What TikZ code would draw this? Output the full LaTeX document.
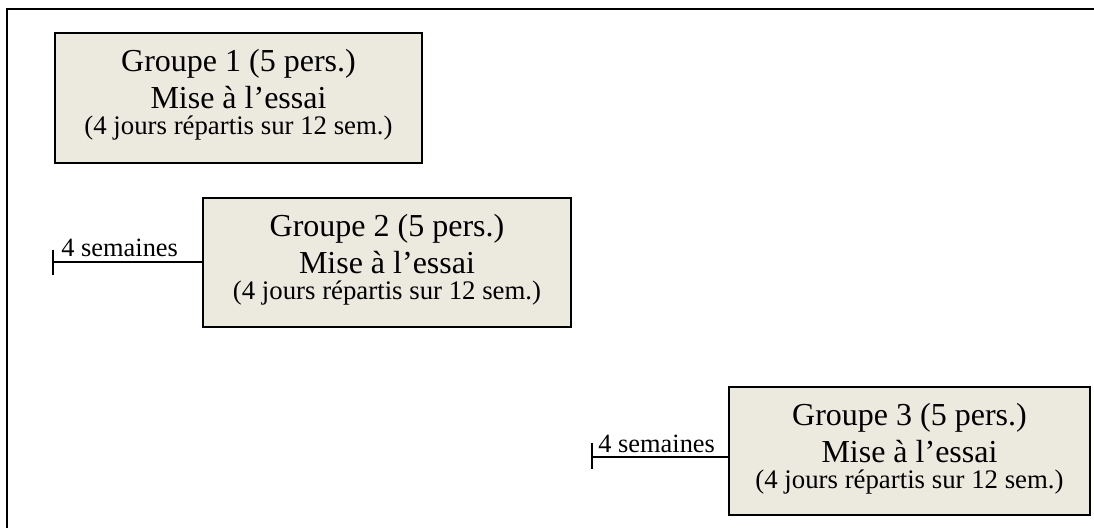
\documentclass[tikz,border=0pt]{standalone}
\usepackage{fontspec}
\setmainfont{Liberation Serif}
\definecolor{boxfill}{RGB}{236,233,223}
\newcommand{\grptext}[2]{\vbox{\offinterlineskip\halign{\hfil##\hfil\cr
  \vrule height 19.5pt depth 3.5pt width 0pt Groupe #1 (5 pers.)\cr
  \vrule height 14.75pt depth 0pt width 0pt Mise à l’essai\cr
  \vrule height 12.75pt depth #2 width 0pt {\fontsize{13.4}{15}\selectfont (4 jours répartis sur 12 sem.)}\cr}}}
\begin{document}
\begin{tikzpicture}[x=0.5pt,y=-0.5pt,
  groupbox/.style={draw=black, line width=1pt, fill=boxfill, inner sep=0pt,
    font=\fontsize{16}{18}\selectfont},
  gap/.style={line width=0.75pt},
  gaplabel/.style={anchor=base west, inner sep=0pt, font=\fontsize{13.2}{15}\selectfont}]
\useasboundingbox (0,0) rectangle (1094,527);
\clip (0,0) rectangle (1094,527);
\fill[white] (0,0) rectangle (1094,527);
% outer frame
\draw[line width=1pt] (7,540) -- (7,9) -- (1110,9);
% boxes
\node[groupbox, minimum width=183.5pt, minimum height=65pt] (g1) at (238.5,98) {\grptext{1}{14.5pt}};
\node[groupbox, minimum width=184pt, minimum height=64.5pt] (g2) at (387,262.5) {\grptext{2}{14pt}};
\node[groupbox, minimum width=180.5pt, minimum height=64pt] (g3) at (909.5,451) {\grptext{3}{13.5pt}};
% gaps
\coordinate (t2) at (53,262);
\coordinate (t2a) at (53,250);
\coordinate (t2b) at (53,275);
\draw[gap] (t2a) -- (t2b);
\draw[gap] (t2) -- (t2 -| g2.west);
\node[gaplabel] (l2) at (61,256) {4 semaines};
\coordinate (t3) at (592,457);
\coordinate (t3a) at (592,443);
\coordinate (t3b) at (592,469);
\draw[gap] (t3a) -- (t3b);
\draw[gap] (t3) -- (t3 -| g3.west);
\node[gaplabel] (l3) at (598,452) {4 semaines};
\end{tikzpicture}
\end{document}
